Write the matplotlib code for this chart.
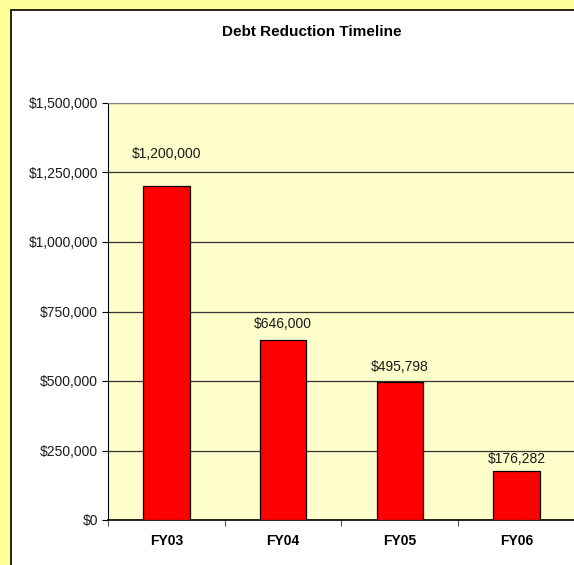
import matplotlib
matplotlib.use("Agg")
import matplotlib.pyplot as plt
from matplotlib.patches import Rectangle
from matplotlib.ticker import FuncFormatter, FixedLocator, NullFormatter

plt.rcParams['font.family'] = ['Liberation Sans', 'DejaVu Sans']

years = ['FY03', 'FY04', 'FY05', 'FY06']
debt = [1200000, 646000, 495798, 176282]
yticks = [0, 250000, 500000, 750000, 1000000, 1250000, 1500000]
# label offsets above the bars, in points (first label sits higher, as in the original)
label_offsets = [23, 11.5, 11, 8.5]

fig = plt.figure(figsize=(5.74, 5.65), dpi=100)
fig.patch.set_facecolor('#FFFF99')

# white chart area with black border, cut off at right and bottom
fig.patches.append(Rectangle((11 / 574, -0.05), 1.1, (565 - 10) / 565 + 0.05,
                             transform=fig.transFigure, facecolor='white',
                             edgecolor='black', linewidth=1.2, zorder=-5))

ax = fig.add_axes([108 / 574, 45 / 565, 467 / 574, 417 / 565])
ax.set_zorder(2)
ax.set_facecolor('#FFFFCC')

xs = list(range(len(years)))
ax.bar(xs, debt, width=0.4, color='#FF0000', edgecolor='black', linewidth=0.9, zorder=3)

for x, v, off in zip(xs, debt, label_offsets):
    ax.annotate('${:,.0f}'.format(v), (x, v), xytext=(0, off), textcoords='offset points',
                ha='center', va='center', fontsize=10, color='#1a1a1a')

ax.set_xlim(-0.5, len(years) - 0.5)
ax.set_ylim(0, 1500000)
ax.set_yticks(yticks)
ax.yaxis.set_major_formatter(FuncFormatter(lambda v, p: '${:,.0f}'.format(v)))
ax.grid(axis='y', color='#333333', linewidth=0.9, zorder=1)
ax.set_axisbelow(True)

ax.xaxis.set_major_locator(FixedLocator([i - 0.5 for i in range(len(years) + 1)]))
ax.xaxis.set_major_formatter(NullFormatter())
ax.xaxis.set_minor_locator(FixedLocator(xs))
ax.set_xticklabels(years, minor=True, fontweight='bold', fontsize=10)
ax.tick_params(axis='x', which='minor', length=0, pad=10)
ax.tick_params(axis='x', which='major', length=4, color='#555555', direction='out')
ax.tick_params(axis='y', length=4, labelsize=10, direction='out', pad=3, labelcolor='#1a1a1a')

for s in ['top', 'right']:
    ax.spines[s].set_color('#888888')
ax.spines['left'].set_color('black')
ax.spines['bottom'].set_color('black')
ax.spines['bottom'].set_linewidth(1.2)

fig.text(312 / 574, 1 - 32 / 565, 'Debt Reduction Timeline', ha='center', va='center',
         fontsize=11, fontweight='bold')

fig.savefig('out.png', dpi=100, facecolor=fig.get_facecolor())
